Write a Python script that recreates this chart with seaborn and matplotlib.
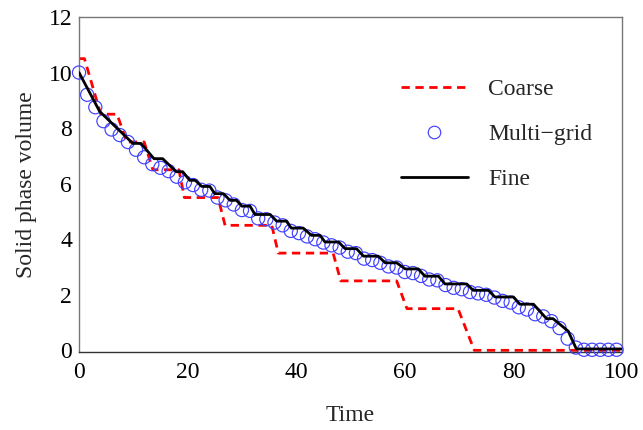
import matplotlib
matplotlib.use("Agg")
import matplotlib.pyplot as plt
import seaborn as sns
import pandas as pd
from matplotlib.lines import Line2D

# ---- data ----
coarse_t = [0, 1, 4, 7, 8.8, 12, 13.6, 18.4, 19.4, 25.6, 26.9, 35.5, 36.7, 46.8, 48.2, 58.5, 60.4, 69.8, 72.8, 100]
coarse_v = [10.5, 10.5, 8.5, 8.5, 7.5, 7.5, 6.5, 6.5, 5.5, 5.5, 4.5, 4.5, 3.5, 3.5, 2.5, 2.5, 1.5, 1.5, 0, 0]

fine_t = [0, 3.8, 9.9, 11.4, 13.8, 15.4, 17.9, 19.1, 20.4, 21.4, 22.6, 24.1, 25.0, 26.6, 27.8, 29.0,
          30.0, 31.5, 32.4, 35.2, 36.4, 38.2, 39.1, 41.3, 42.8, 44.4, 45.3, 47.8, 49.0, 51.1, 52.4,
          55.1, 56.4, 58.5, 60.1, 62.5, 63.7, 66.2, 67.4, 71.4, 72.6, 75.4, 76.6, 80.0, 81.2, 83.7,
          86.1, 87.3, 90.1, 91.6, 100]
fine_v = [10.0, 8.6, 7.45, 7.45, 6.9, 6.9, 6.43, 6.43, 6.12, 6.12, 5.9, 5.9, 5.64, 5.64, 5.4, 5.4,
          5.19, 5.19, 4.89, 4.89, 4.65, 4.65, 4.4, 4.4, 4.14, 4.14, 3.9, 3.9, 3.66, 3.66, 3.39,
          3.39, 3.15, 3.15, 2.93, 2.93, 2.67, 2.67, 2.39, 2.39, 2.16, 2.16, 1.92, 1.92, 1.66, 1.66,
          1.14, 1.14, 0.69, 0.05, 0.05]

multi_t = [0, 1.5, 3, 4.5, 6, 7.5, 9, 10.5, 12, 13.5, 15, 16.5, 18, 19.5, 21, 22.5, 24, 25.5, 27,
           28.5, 30, 31.5, 33, 34.5, 36, 37.5, 39, 40.5, 42, 43.5, 45, 46.5, 48, 49.5, 51, 52.5,
           54, 55.5, 57, 58.5, 60, 61.5, 63, 64.5, 66, 67.5, 69, 70.5, 72, 73.5, 75, 76.5, 78,
           79.5, 81, 82.5, 84, 85.5, 87, 88.5, 90, 91.5, 93, 94.5, 96, 97.5, 99]
multi_v = [10.0, 9.2, 8.75, 8.25, 7.95, 7.75, 7.5, 7.22, 6.95, 6.7, 6.57, 6.45, 6.25, 6.05, 5.95,
           5.78, 5.75, 5.5, 5.4, 5.25, 5.05, 5.02, 4.75, 4.72, 4.6, 4.5, 4.3, 4.22, 4.1, 4.0,
           3.88, 3.78, 3.7, 3.55, 3.5, 3.3, 3.25, 3.15, 3.02, 2.98, 2.82, 2.78, 2.68, 2.55, 2.52,
           2.35, 2.25, 2.2, 2.1, 2.05, 2.0, 1.9, 1.78, 1.72, 1.55, 1.47, 1.3, 1.22, 1.05, 0.8,
           0.42, 0.1, 0.02, 0.02, 0.02, 0.02, 0.02]

x_ticks = [0, 20, 40, 60, 80, 100]
y_ticks = [0, 2, 4, 6, 8, 10, 12]

sns.set_theme(style="white")
plt.rcParams['font.family'] = ['Liberation Serif', 'DejaVu Serif']

fig = plt.figure(figsize=(6.43, 4.30), dpi=100)
ax = fig.add_axes([0.1229, 0.1814, 0.8444, 0.7791])

df_c = pd.DataFrame({"t": coarse_t, "v": coarse_v})
df_f = pd.DataFrame({"t": fine_t, "v": fine_v})
df_m = pd.DataFrame({"t": multi_t, "v": multi_v})

sns.lineplot(data=df_c, x="t", y="v", ax=ax, color="#ff0000", linewidth=2.0,
             sort=False, estimator=None, legend=False, zorder=2)
ax.lines[-1].set_dashes([3, 2])
sns.scatterplot(data=df_m, x="t", y="v", ax=ax, marker="o", s=90, legend=False, zorder=3)
sc = ax.collections[-1]
sc.set_facecolor("none")
sc.set_edgecolor("#4040ff")
sc.set_linewidth(0.85)
sc.set_clip_on(False)
sns.lineplot(data=df_f, x="t", y="v", ax=ax, color="black", linewidth=2.0,
             sort=False, estimator=None, legend=False, zorder=4)

ax.set_xlim(0, 100)
ax.set_ylim(-0.06, 12)
ax.set_xticks(x_ticks)
ax.set_yticks(y_ticks)
ax.tick_params(direction="in", length=4, width=0.8, color="#444444", labelsize=17,
               labelcolor="black")
ax.tick_params(axis="x", pad=7)
ax.tick_params(axis="y", pad=5)
for s in ax.spines.values():
    s.set_color("#777777")
    s.set_linewidth(1.0)
ax.spines["bottom"].set_color("#333333")

ax.set_xlabel("Time", fontsize=17, labelpad=16)
ax.set_ylabel("Solid phase volume", fontsize=17, labelpad=8)

handles = [
    Line2D([], [], color="#ff0000", linewidth=2.0, dashes=[3, 2]),
    Line2D([], [], color="#4040ff", marker="o", linestyle="", markersize=9,
           markerfacecolor="none", markeredgewidth=0.85),
    Line2D([], [], color="black", linewidth=2.0),
]
ax.legend(handles, ["Coarse", "Multi\u2212grid", "Fine"], frameon=False, fontsize=17,
          loc="upper left", bbox_to_anchor=(0.575, 0.845), handlelength=2.85,
          labelspacing=1.0, handletextpad=0.85, borderaxespad=0)

fig.savefig("out.png", dpi=100)
